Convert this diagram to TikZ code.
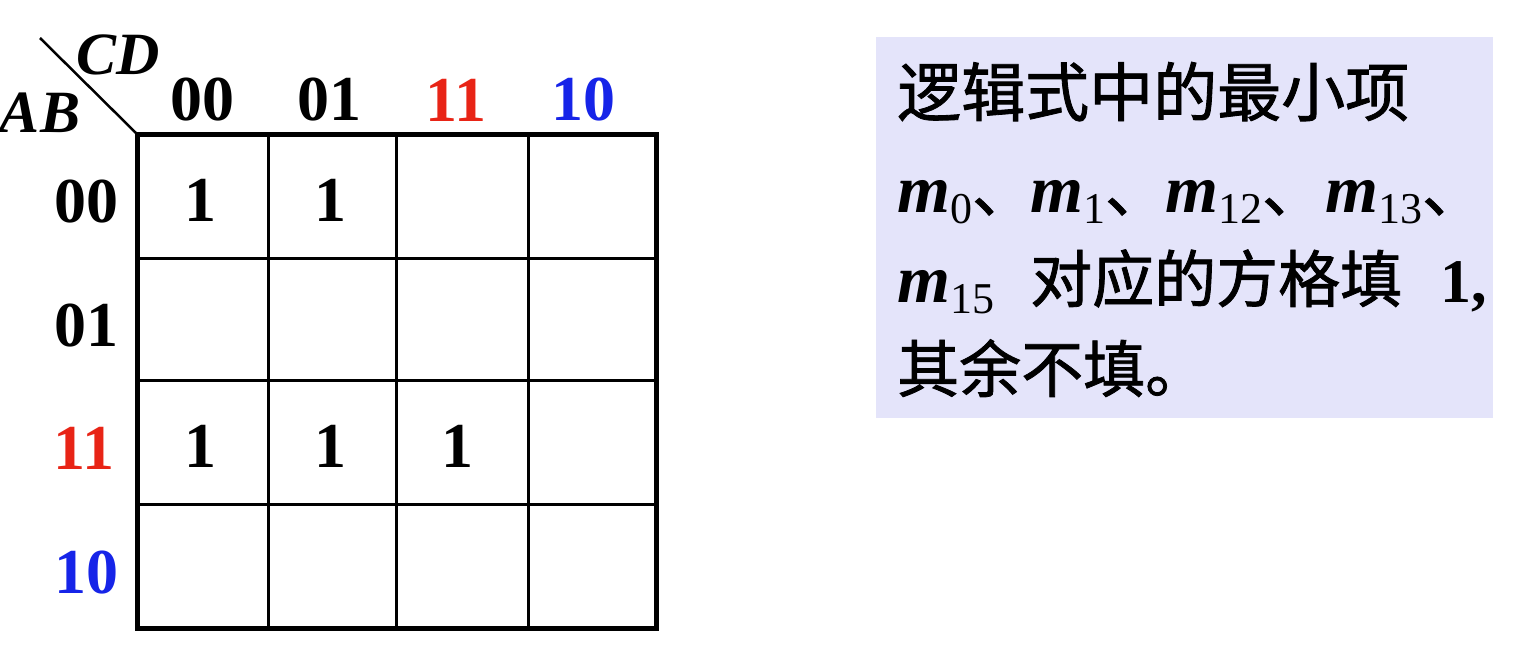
\documentclass[tikz,border=0pt]{standalone}
\usepackage{fontspec}
\setmainfont{Liberation Serif}
\newfontfamily\cjk[FakeBold=1.3]{Noto Sans CJK SC}
\definecolor{kred}{RGB}{232,36,22}
\definecolor{kblue}{RGB}{22,36,232}
\definecolor{boxfill}{RGB}{228,228,250}
\newcommand\mterm[1]{{\fontsize{68}{68}\selectfont\bfseries\itshape m}{\fontsize{44}{44}\selectfont\raisebox{-11pt}{#1}}}
\begin{document}
\begin{tikzpicture}[x=1pt,y=-1pt,
  lbl/.style={font=\fontsize{64}{64}\selectfont\bfseries, inner sep=0},
  var/.style={font=\fontsize{60}{60}\selectfont\bfseries\itshape, inner sep=0},
  one/.style={font=\fontsize{64}{64}\selectfont\bfseries, inner sep=0},
  cn/.style={font=\fontsize{62}{62}\selectfont\cjk, inner sep=0, anchor=base west},
  mt/.style={inner sep=0, anchor=base west},
  outer/.style={line width=5pt},
  inner/.style={line width=3pt}]
\useasboundingbox (0,0) rectangle (1521,664);
% grid
\coordinate (tl) at (137,134);
\coordinate (br) at (656,628);
\foreach \x in {268,396,528} \draw[inner] (\x,134) -- (\x,628);
\foreach \y in {258,380,504} \draw[inner] (137,\y) -- (656,\y);
\draw[outer] (tl) rectangle (br);
% diagonal
\coordinate (dg) at (40,38);
\draw[line width=2.5pt] (dg) -- (tl);
\node[var] (cd) at (118,55) {CD};
\node[var] (ab) at (40,113) {AB};
% column labels
\node[lbl] (c00) at (202,100) {00};
\node[lbl] (c01) at (329,100) {01};
\node[lbl,kred] (c11) at (456,100) {11};
\node[lbl,kblue] (c10) at (583,100) {10};
% row labels
\node[lbl] (r00) at (86,202) {00};
\node[lbl] (r01) at (86,326) {01};
\node[lbl,kred] (r11) at (84,448) {11};
\node[lbl,kblue] (r10) at (86,573) {10};
% ones
\node[one] (m0) at (200,200) {1};
\node[one] (m1) at (330,200) {1};
\node[one] (m12) at (200,446) {1};
\node[one] (m13) at (330,446) {1};
\node[one] (m15) at (457,446) {1};
% text box
\fill[boxfill] (876,37) rectangle (1493,418);
\node[cn,font=\fontsize{64}{64}\selectfont\cjk] (t1) at (897,116) {逻辑式中的最小项};
\node[mt] (e0) at (897,212) {\mterm{0}{\cjk\fontsize{62}{62}\selectfont 、}};
\node[mt] (e1) at (1030,212) {\mterm{1}{\cjk\fontsize{62}{62}\selectfont 、}};
\node[mt] (e12) at (1165,212) {\mterm{12}{\cjk\fontsize{62}{62}\selectfont 、}};
\node[mt] (e13) at (1325,212) {\mterm{13}{\cjk\fontsize{62}{62}\selectfont 、}};
\node[mt] (e15) at (897,302) {\mterm{15}};
\node[cn] (t3) at (1030,302) {对应的方格填};
\node[mt,font=\fontsize{62}{62}\selectfont\bfseries] (t3b) at (1440,302) {1,};
\node[cn] (t4) at (897,392) {其余不填。};
\end{tikzpicture}
\end{document}
